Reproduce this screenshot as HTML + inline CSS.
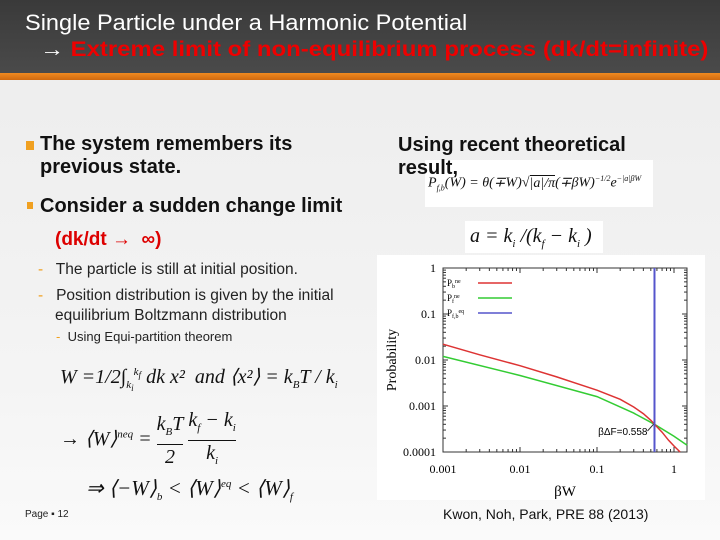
<!DOCTYPE html>
<html><head><meta charset="utf-8"><style>
body{margin:0;width:720px;height:540px;position:relative;overflow:hidden;background:linear-gradient(#ececec,#f4f4f4 70%,#fafafa);font-family:"Liberation Sans",sans-serif}
.a{position:absolute;white-space:nowrap}
.s{font-family:"Liberation Serif",serif;font-style:italic}
</style></head><body>
<div class="a" style="left:0;top:0;width:720px;height:73px;background:linear-gradient(#3a3a3a,#4a4a4a)"></div>
<div class="a" style="left:0;top:73px;width:720px;height:7px;background:linear-gradient(#f08a20,#d06a10)"></div>
<div class="a" style="left:25px;top:10px;font-size:22px;color:#fff;transform-origin:0 0;transform:scaleX(1.07)">Single Particle under a Harmonic Potential</div>
<div class="a" style="left:40px;top:38px;font-size:21px;color:#fff;font-weight:bold;transform-origin:0 0;transform:scaleX(1.14)">→ <span style="color:#e00">Extreme limit of non-equilibrium process (dk/dt=infinite)</span></div>

<div class="a" style="left:26px;top:133px;font-size:20px;font-weight:bold;line-height:23px;color:#111"><span style="display:inline-block;width:8px;height:9px;background:#f0a020;margin-right:6px"></span>The system remembers its<br><span style="margin-left:14px">previous state.</span></div>
<div class="a" style="left:27px;top:195px;font-size:20px;font-weight:bold;color:#111"><span style="display:inline-block;width:6px;height:7px;background:#f0a020;margin-right:7px;vertical-align:3px"></span>Consider a sudden change limit</div>
<div class="a" style="left:55px;top:229px;font-size:19px;font-weight:bold;color:#d00">(dk/dt → &nbsp;∞)</div>
<div class="a" style="left:38px;top:261px;font-size:15.5px;color:#222"><span style="color:#f0a020">-</span>&nbsp;&nbsp; The particle is still at initial position.</div>
<div class="a" style="left:38px;top:286px;font-size:15.5px;line-height:20px;color:#222"><span style="color:#f0a020">-</span>&nbsp;&nbsp; Position distribution is given by the initial<br><span style="margin-left:17px">equilibrium Boltzmann distribution</span></div>
<div class="a" style="left:56px;top:329px;font-size:13px;color:#222"><span style="color:#f0a020">-</span>&nbsp; Using Equi-partition theorem</div>

<div class="a s" style="left:60px;top:364px;font-size:20px;color:#111">W =1/2∫<sub style="font-size:11px">k<sub>i</sub></sub><sup style="font-size:11px">k<sub>f</sub></sup> dk x² &nbsp;and ⟨x²⟩ = k<sub style="font-size:11px">B</sub>T / k<sub style="font-size:11px">i</sub></div>
<div class="a s" style="left:60px;top:408px;font-size:20px;color:#111">→ ⟨W⟩<sup style="font-size:11px">neq</sup> = <span style="display:inline-block;text-align:center;vertical-align:middle;line-height:24px"><span style="border-bottom:1px solid #111;display:block">k<sub style="font-size:11px">B</sub>T</span>2</span> <span style="display:inline-block;text-align:center;vertical-align:middle;line-height:24px"><span style="border-bottom:1px solid #111;display:block">k<sub style="font-size:11px">f</sub> − k<sub style="font-size:11px">i</sub></span>k<sub style="font-size:11px">i</sub></span></div>
<div class="a s" style="left:86px;top:476px;font-size:21px;color:#111">⇒ ⟨−W⟩<sub style="font-size:11px">b</sub> &lt; ⟨W⟩<sup style="font-size:11px">eq</sup> &lt; ⟨W⟩<sub style="font-size:11px">f</sub></div>
<div class="a" style="left:25px;top:509px;font-size:10px;color:#222">Page ▪ 12</div>

<div class="a" style="left:425px;top:160px;width:228px;height:47px;background:#fff"></div>
<div class="a s" style="left:428px;top:174px;font-size:14px;color:#111">P<sub style="font-size:8px">f,b</sub>(W) = θ(∓W)√<span style="border-top:1px solid #111">|a|/π</span>(∓βW)<sup style="font-size:8px">−1/2</sup>e<sup style="font-size:8px">−|a|βW</sup></div>
<div class="a" style="left:398px;top:134px;font-size:20px;font-weight:bold;line-height:23px;color:#111">Using recent theoretical<br>result,</div>
<div class="a" style="left:465px;top:221px;width:138px;height:32px;background:#fff"></div>
<div class="a s" style="left:470px;top:225px;font-size:20px;color:#111">a = k<sub style="font-size:11px">i</sub> /(k<sub style="font-size:11px">f</sub> − k<sub style="font-size:11px">i</sub> )</div>

<div class="a" style="left:443px;top:506px;font-size:14px;color:#111">Kwon, Noh, Park, PRE 88 (2013)</div>

<svg class="a" style="left:0;top:0" width="720" height="540" id="chart"></svg>
<script>
const xTicks=[0.001,0.01,0.1,1];
const xTickLabels=["0.001","0.01","0.1","1"];
const yTicks=[0.0001,0.001,0.01,0.1,1];
const yTickLabels=["0.0001","0.001","0.01","0.1","1"];
const redX=[0.001,0.003,0.01,0.03,0.1,0.2,0.3,0.4,0.5,0.558,0.7,0.85,1.0,1.2];
const redY=[0.022,0.013,0.0075,0.0043,0.0022,0.0014,0.00095,0.00068,0.00049,0.0004,0.00027,0.00018,0.000135,0.0001];
const greenX=[0.001,0.01,0.1,0.3,0.558,1.0,1.48];
const greenY=[0.012,0.0046,0.0016,0.0007,0.0004,0.00022,0.00014];
const deltaF=0.558;
const svg=document.getElementById('chart');const NS='http://www.w3.org/2000/svg';
const X0=443,X1=674,Y0=452,Y1=268,XR=687;
const sx=v=>X0+(Math.log10(v)+3)/3*(X1-X0);
const sy=v=>Y0-(Math.log10(v)+4)/4*(Y0-Y1);
function mk(t,a,p){const e=document.createElementNS(NS,t);for(const k in a)e.setAttribute(k,a[k]);(p||svg).appendChild(e);return e;}
const bg=mk('rect',{x:377,y:255,width:328,height:245,fill:'#fff'});


const frame=mk('rect',{x:X0,y:Y1,width:XR-X0,height:Y0-Y1,fill:'none',stroke:'#333','stroke-width':1});


for(let d=-3;d<=0;d++)for(let m=1;m<10;m++){const v=m*Math.pow(10,d);if(v>1.5)break;const x=sx(v);const L=m==1?5:3;mk('line',{x1:x,x2:x,y1:Y0,y2:Y0-L,stroke:'#333'});mk('line',{x1:x,x2:x,y1:Y1,y2:Y1+L,stroke:'#333'});}
for(let d=-4;d<0;d++)for(let m=1;m<10;m++){const v=m*Math.pow(10,d);const y=sy(v);const L=m==1?5:3;mk('line',{x1:X0,x2:X0+L,y1:y,y2:y,stroke:'#333'});mk('line',{x1:XR,x2:XR-L,y1:y,y2:y,stroke:'#333'});}
xTicks.forEach((v,i)=>{const t=mk('text',{x:sx(v),y:473,'text-anchor':'middle','font-size':12,'font-family':'Liberation Serif'});t.textContent=xTickLabels[i];

});
yTicks.forEach((v,i)=>{const t=mk('text',{x:436,y:sy(v)+4,'text-anchor':'end','font-size':12,'font-family':'Liberation Serif'});t.textContent=yTickLabels[i];

});
const xt=mk('text',{x:565,y:496,'text-anchor':'middle','font-size':15,'font-family':'Liberation Serif'});xt.textContent='βW';


const yt=mk('text',{x:396,y:360,'text-anchor':'middle','font-size':14,'font-family':'Liberation Serif',transform:'rotate(-90 396 360)'});yt.textContent='Probability';


const pts=(xs,ys)=>xs.map((v,i)=>sx(v).toFixed(1)+','+sy(Math.max(ys[i],1e-4)).toFixed(1)).join(' ');
const g=mk('polyline',{points:pts(greenX,greenY),fill:'none',stroke:'#3c3',"stroke-width":1.5});


const r=mk('polyline',{points:pts(redX,redY),fill:'none',stroke:'#d33',"stroke-width":1.5});


const bl=mk('line',{x1:sx(deltaF),x2:sx(deltaF),y1:Y1,y2:Y0,stroke:'#55c','stroke-width':2});


const an=mk('text',{x:sx(deltaF)-7,y:435,'text-anchor':'end','font-size':10,'font-family':'Liberation Sans'});an.textContent='βΔF='+deltaF;


mk('line',{x1:sx(deltaF)-7,y1:431,x2:sx(deltaF)-1,y2:sy(0.0004),stroke:'#333'});
const leg=[['P','b','ne','#d33'],['P','f','ne','#3c3'],['P','f,b','eq','#55c']];
leg.forEach((l,i)=>{const y=283+i*15;const t=mk('text',{x:447,y:y+3,'font-size':9,'font-family':'Liberation Serif'});t.innerHTML=l[0]+'<tspan font-size="6" dy="2">'+l[1]+'</tspan><tspan font-size="6" dy="-5">'+l[2]+'</tspan>';


mk('line',{x1:478,x2:512,y1:y,y2:y,stroke:l[3],'stroke-width':1.5});});
</script>
</body></html>
